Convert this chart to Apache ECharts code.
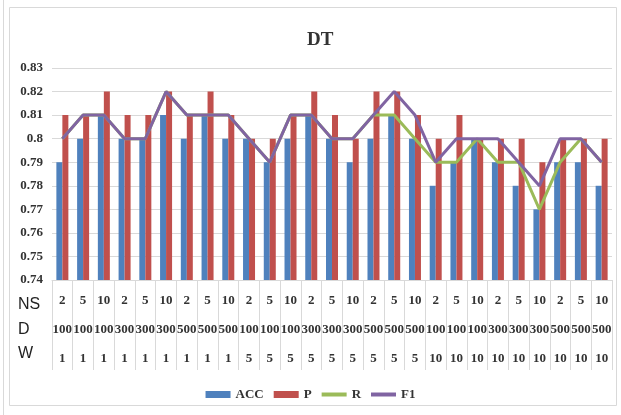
<!DOCTYPE html>
<html>
<head>
<meta charset="utf-8">
<script src="https://cdn.jsdelivr.net/npm/echarts@6/dist/echarts.min.js"></script>
<style>
  html, body { margin: 0; padding: 0; background: #fff; }
  #chart { width: 621px; height: 415px; }
</style>
</head>
<body>
<div id="chart"></div>
<script>
// three header rows of the category table
var nsRow = ['2','5','10','2','5','10','2','5','10','2','5','10','2','5','10','2','5','10','2','5','10','2','5','10','2','5','10'];
var dRow = ['100','100','100','300','300','300','500','500','500','100','100','100','300','300','300','500','500','500','100','100','100','300','300','300','500','500','500'];
var wRow = ['1','1','1','1','1','1','1','1','1','5','5','5','5','5','5','5','5','5','10','10','10','10','10','10','10','10','10'];

var accVals = [0.79,0.80,0.81,0.80,0.80,0.81,0.80,0.81,0.80, 0.80,0.79,0.80,0.81,0.80,0.79,0.80,0.81,0.80, 0.78,0.79,0.80,0.79,0.78,0.77,0.79,0.79,0.78];
var pVals = [0.81,0.81,0.82,0.81,0.81,0.82,0.81,0.82,0.81, 0.80,0.80,0.81,0.82,0.81,0.80,0.82,0.82,0.81, 0.80,0.81,0.80,0.80,0.80,0.79,0.80,0.80,0.80];
var rVals = [0.80,0.81,0.81,0.80,0.80,0.82,0.81,0.81,0.81, 0.80,0.79,0.81,0.81,0.80,0.80,0.81,0.81,0.80, 0.79,0.79,0.80,0.79,0.79,0.77,0.79,0.80,0.79];
var f1Vals = [0.80,0.81,0.81,0.80,0.80,0.82,0.81,0.81,0.81, 0.80,0.79,0.81,0.81,0.80,0.80,0.81,0.82,0.81, 0.79,0.80,0.80,0.80,0.79,0.78,0.80,0.80,0.79];

var serif = '"Liberation Serif", "DejaVu Serif", serif';
var gridColor = '#d9d9d9';
var rowFont = '16px "Liberation Sans Narrow", "Liberation Sans", sans-serif';
var lineIcon = 'path://M0,0 L25,0 L25,4 L0,4 Z';

function rowAxis(data, offset, first) {
  return {
    type: 'category',
    data: data,
    position: 'bottom',
    offset: offset,
    axisLine: { show: first, lineStyle: { color: gridColor } },
    axisTick: { show: first, length: 90, lineStyle: { color: gridColor } },
    axisLabel: { interval: 0, margin: 14, fontFamily: serif, fontWeight: 'bold', fontSize: 13, color: '#333' }
  };
}

var chart = echarts.init(document.getElementById('chart'));
chart.setOption({
  animation: false,
  title: {
    text: 'DT', left: 302, top: 26,
    textStyle: { fontFamily: serif, fontWeight: 'bold', fontSize: 19, color: '#333' }
  },
  grid: { left: 52, right: 9, top: 68, bottom: 135 },
  legend: {
    top: 383, left: 'center', itemWidth: 25, itemHeight: 7, itemGap: 10,
    textStyle: { fontFamily: serif, fontWeight: 'bold', fontSize: 13, color: '#333' },
    data: [
      { name: 'ACC', icon: 'rect' },
      { name: 'P', icon: 'rect' },
      { name: 'R', icon: lineIcon },
      { name: 'F1', icon: lineIcon }
    ]
  },
  xAxis: [rowAxis(nsRow, 0, true), rowAxis(dRow, 29, false), rowAxis(wRow, 58, false)],
  yAxis: {
    type: 'value', min: 0.74, max: 0.83, interval: 0.01,
    axisLine: { show: false }, axisTick: { show: false },
    splitLine: { lineStyle: { color: gridColor } },
    axisLabel: { margin: 9, fontFamily: serif, fontWeight: 'bold', fontSize: 13, color: '#333' }
  },
  graphic: [
    { type: 'rect', shape: { x: 9.5, y: 7.5, width: 607, height: 398 }, style: { fill: null, stroke: '#d9d9d9' } },
    { type: 'line', shape: { x1: 3.5, y1: 0, x2: 3.5, y2: 415 }, style: { stroke: '#d9d9d9' } },
    { type: 'text', left: 18, top: 297, style: { text: 'NS', font: rowFont, fill: '#222' } },
    { type: 'text', left: 18, top: 322, style: { text: 'D', font: rowFont, fill: '#222' } },
    { type: 'text', left: 18, top: 346, style: { text: 'W', font: rowFont, fill: '#222' } }
  ],
  series: [
    { name: 'ACC', type: 'bar', data: accVals, barWidth: 6, barGap: '0%', itemStyle: { color: '#4f81bd' } },
    { name: 'P', type: 'bar', data: pVals, barWidth: 6, barGap: '0%', itemStyle: { color: '#c0504d' } },
    { name: 'R', type: 'line', data: rVals, symbol: 'none', lineStyle: { width: 3, color: '#9bbb59' }, itemStyle: { color: '#9bbb59' } },
    { name: 'F1', type: 'line', data: f1Vals, symbol: 'none', lineStyle: { width: 3, color: '#8064a2' }, itemStyle: { color: '#8064a2' } }
  ]
});
</script>
</body>
</html>
